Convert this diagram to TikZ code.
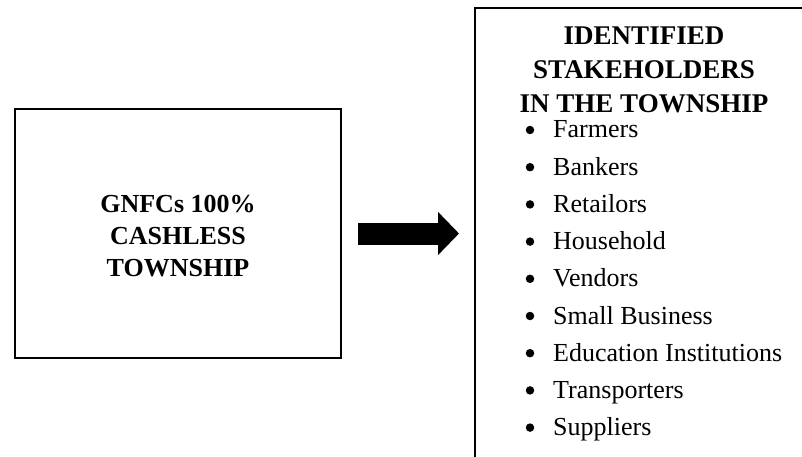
\documentclass[tikz,border=0pt]{standalone}
\usepackage{fontspec}
\setmainfont{Liberation Serif}
\usetikzlibrary{arrows.meta}

\tikzset{
  box/.style={draw, line width=2.4pt, inner sep=0pt},
  title/.style={align=center, anchor=north, inner sep=0pt},
  item/.style={anchor=base west, inner sep=0pt, font=\fontsize{26}{30}\selectfont},
  dot/.style={circle, fill, inner sep=0pt, minimum size=8.5pt},
}

\begin{document}
\begin{tikzpicture}[x=1pt, y=-1pt]
  \useasboundingbox (0,0) rectangle (802,457);
  \clip (0,0) rectangle (802,457);
  % left box
  \node[box, minimum width=326pt, minimum height=249pt] (town) at (178,233.5) {};
  \node[title, font=\fontsize{26}{32}\selectfont\bfseries] (townname) at (178,195)
    {GNFCs 100\%\\CASHLESS\\TOWNSHIP};
  % right box, runs off the page
  \node[box, anchor=north west, minimum width=340pt, minimum height=470pt] (stake) at (474,7) {};
  \node[title, font=\fontsize{27}{34}\selectfont\bfseries] (stakename) at (644,27)
    {IDENTIFIED\\STAKEHOLDERS\\IN THE TOWNSHIP};
  \foreach \name [count=\i from 0] in {Farmers, Bankers, Retailors, Household, Vendors,
      Small Business, Education Institutions, Transporters, Suppliers} {
    \node[dot] (dot\i) at (530, 130+37.2*\i) {};
    \node[item] (item\i) at (553, 138+37.2*\i) {\name};
  }
  % block arrow
  \coordinate (gap) at (town.east -| stake.west);
  \draw[line width=22pt, -{Triangle[length=21pt, width=42pt]}]
    ([xshift=16pt]town.east) -- ([xshift=-15pt]gap);
\end{tikzpicture}
\end{document}
